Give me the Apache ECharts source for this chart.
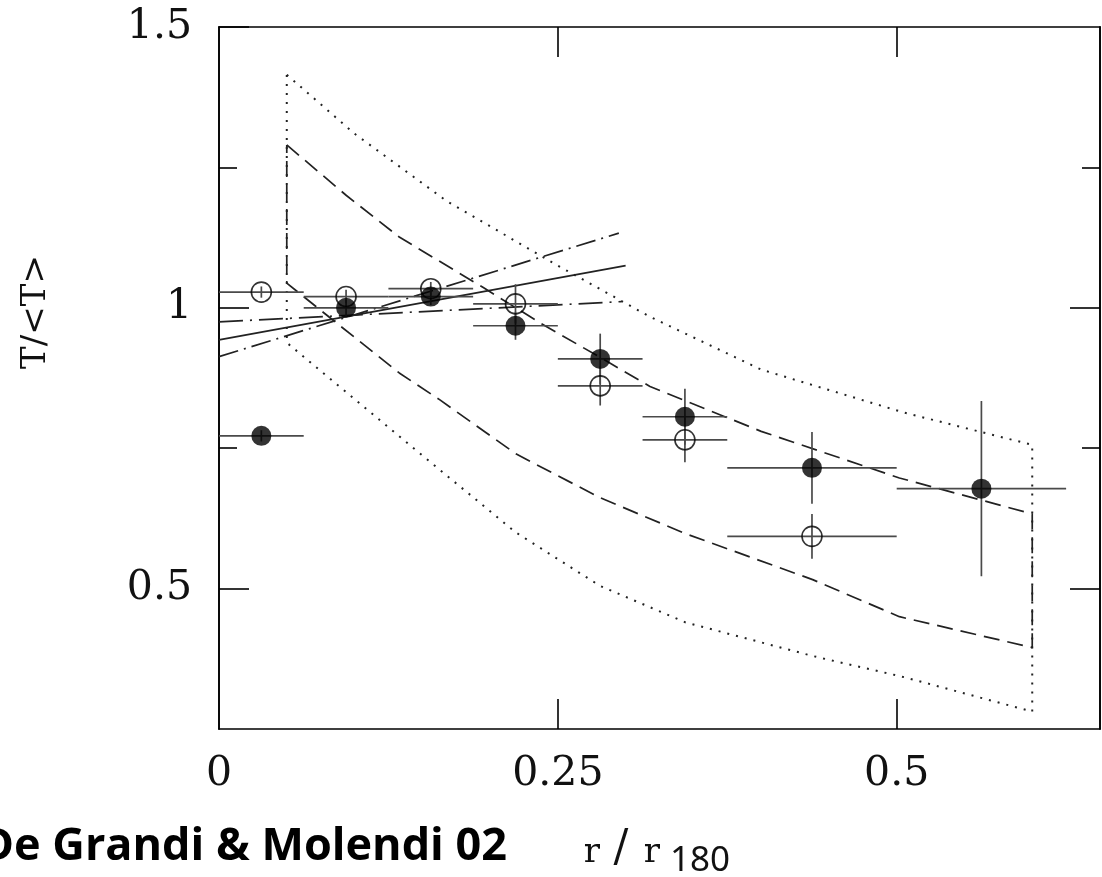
<!DOCTYPE html>
<html><head><meta charset="utf-8">
<script src="https://cdn.jsdelivr.net/npm/echarts@6/dist/echarts.min.js"></script>
<style>html,body{margin:0;padding:0;background:#fff}#c{width:1102px;height:877px}</style>
</head><body><div id="c"></div>
<script>
// ---- data ----
const binLo  = [0, 0.0625, 0.125, 0.1875, 0.25, 0.3125, 0.375, 0.5];
const binHi  = [0.0625, 0.125, 0.1875, 0.25, 0.3125, 0.375, 0.5, 0.625];
const binMid = [0.03125, 0.09375, 0.15625, 0.21875, 0.28125, 0.34375, 0.4375, 0.5625];
const filledT   = [0.772, 1.000, 1.020, 0.968, 0.909, 0.806, 0.715, 0.678];
const filledErr = [0.010, 0.015, 0.015, 0.025, 0.045, 0.050, 0.064, 0.156];
const openT     = [1.028, 1.020, 1.034, 1.007, 0.861, 0.765, 0.593];
const openErr   = [0.010, 0.012, 0.012, 0.035, 0.035, 0.040, 0.040];

const dotUpper  = [[0.05,1.415],[0.10,1.31],[0.168,1.19],[0.25,1.075],[0.318,0.984],[0.40,0.89],[0.506,0.813],[0.60,0.756]];
const dotLower  = [[0.05,0.938],[0.142,0.753],[0.219,0.60],[0.281,0.505],[0.344,0.44],[0.438,0.38],[0.506,0.342],[0.60,0.281]];
const dashUpper = [[0.05,1.29],[0.094,1.20],[0.133,1.126],[0.195,1.036],[0.237,0.973],[0.281,0.912],[0.318,0.86],[0.40,0.78],[0.502,0.697],[0.60,0.633]];
const dashLower = [[0.05,1.044],[0.081,0.984],[0.133,0.884],[0.163,0.836],[0.219,0.74],[0.281,0.662],[0.344,0.598],[0.438,0.516],[0.502,0.45],[0.60,0.395]];
const fitSolid   = [[0,0.943],[0.30,1.075]];
const fitDashDot = [[0,0.913],[0.295,1.133]];
const fitFlat    = [[0,0.975],[0.297,1.011]];

const xTicks = [0.25, 0.5];
const xLabels = [0, 0.25, 0.5];
const yMajor = [0.5, 1, 1.5];
const yMinor = [0.75, 1.25];

// ---- build ----
const closed = (up, lo) => up.concat(lo.slice().reverse()).concat([up[0]]);
const filledRows = binMid.map((x,i)=>[x, filledT[i], binLo[i], binHi[i], filledErr[i]]);
const openRows = openT.map((t,i)=>[binMid[i], t, binLo[i], binHi[i], openErr[i]]);

function errRender(params, api) {
  const x = api.value(0), y = api.value(1), lo = api.value(2), hi = api.value(3), e = api.value(4);
  const pL = api.coord([lo, y]), pR = api.coord([hi, y]);
  const pT = api.coord([x, y + e]), pB = api.coord([x, y - e]);
  const style = {stroke: '#4a4a4a', lineWidth: 1.7};
  return {type: 'group', children: [
    {type:'line', shape:{x1:pL[0], y1:pL[1], x2:pR[0], y2:pR[1]}, style: style},
    {type:'line', shape:{x1:pT[0], y1:pT[1], x2:pB[0], y2:pB[1]}, style: style}
  ]};
}

const serif = '"DejaVu Serif"';
const axisLine = {show:true, lineStyle:{color:'#000', width:1.6}};
function xAx(pos, labels) {
  return {type:'value', min:0, max:0.65, interval:0.25, position:pos,
    axisLine: axisLine,
    axisTick:{show:true, inside:true, length:30, customValues:xTicks, lineStyle:{color:'#000', width:1.6}},
    axisLabel: labels ? {show:true, customValues:xLabels, margin:25, fontSize:41, fontFamily:serif, color:'#111'} : {show:false},
    splitLine:{show:false}};
}
function yAx(pos, ticks, len, labels) {
  return {type:'value', min:0.25, max:1.5, interval:0.25, position:pos,
    axisLine: axisLine,
    axisTick:{show:true, inside:true, length:len, customValues:ticks, lineStyle:{color:'#000', width:1.6}},
    axisLabel: labels ? {show:true, customValues:yMajor, margin:27, fontSize:41, fontFamily:serif, color:'#111'} : {show:false},
    splitLine:{show:false}};
}
const lineS = (data, type, w) => ({type:'line', data:data, symbol:'none', showSymbol:false, silent:true,
  lineStyle:{color:'#222', width:w || 1.6, type:type}, z:2});

const option = {
  animation:false,
  grid:{left:219, top:27, width:881, height:702, containLabel:false},
  xAxis:[xAx('bottom', true), xAx('top', false)],
  yAxis:[yAx('left', yMajor, 30, true), yAx('left', yMinor, 18, false), yAx('right', [0.5,1], 30, false), yAx('right', yMinor, 18, false)],
  series:[
    lineS(closed(dotUpper, dotLower), [2,7], 2),
    lineS(closed(dashUpper, dashLower), [16,8], 1.7),
    lineS(fitSolid, 'solid', 1.7),
    lineS(fitDashDot, [20,6,2,6], 1.7),
    lineS(fitFlat, [24,7,2,7], 1.7),
    {type:'custom', data:filledRows, renderItem:errRender, encode:{x:0,y:1}, z:3, silent:true},
    {type:'custom', data:openRows, renderItem:errRender, encode:{x:0,y:1}, z:3, silent:true},
    {type:'scatter', data:filledRows.map(r=>[r[0],r[1]]), symbol:'circle', symbolSize:20, itemStyle:{color:'#000'}, z:4, silent:true},
    {type:'scatter', data:openRows.map(r=>[r[0],r[1]]), symbol:'circle', symbolSize:20, itemStyle:{color:'rgba(255,255,255,0)', borderColor:'#000', borderWidth:1.6}, z:4, silent:true}
  ],
  graphic:[
    {type:'text', x:36, y:312, rotation:Math.PI/2, style:{text:'T/<T>', font:'34px "DejaVu Serif"', fill:'#111', textAlign:'center', textVerticalAlign:'middle'}},
    {type:'text', x:507, y:847, style:{text:'De Grandi & Molendi 02', font:'bold 45px "Open Sans"', fill:'#000', textAlign:'right', textVerticalAlign:'middle'}},
    {type:'text', x:592, y:853, style:{text:'r', font:'34px "DejaVu Serif"', fill:'#111', textAlign:'center', textVerticalAlign:'middle'}},
    {type:'text', x:621, y:850, style:{text:'/', font:'44px "DejaVu Serif"', fill:'#111', textAlign:'center', textVerticalAlign:'middle'}},
    {type:'text', x:652, y:853, style:{text:'r', font:'34px "DejaVu Serif"', fill:'#111', textAlign:'center', textVerticalAlign:'middle'}},
    {type:'text', x:670, y:861, style:{text:'180', font:'35px "Noto Sans"', fill:'#111', textAlign:'left', textVerticalAlign:'middle'}}
  ]
};
echarts.init(document.getElementById('c'), null, {renderer:'canvas'}).setOption(option);
</script></body></html>
